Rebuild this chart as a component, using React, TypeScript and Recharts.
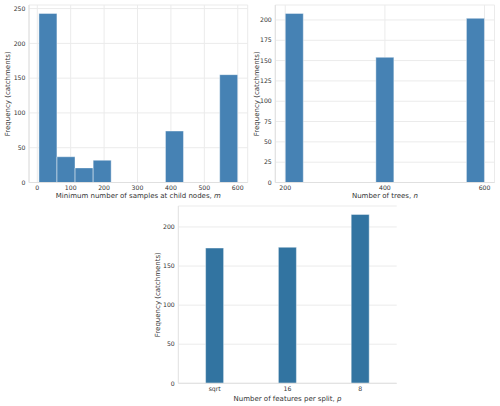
import React from "react";
import { BarChart, Bar, XAxis, YAxis, CartesianGrid } from "recharts";

// m: minimum number of samples at child nodes, 11 bins from 5 to 600
const mBinMids = [32.0, 86.1, 140.2, 194.3, 248.4, 302.5, 356.6, 410.7, 464.8, 518.9, 573.0];
const mCounts = [243, 37, 21, 32, 0, 0, 0, 74, 0, 0, 155];
const mRange = [5, 600];
const mXTicks = [0, 100, 200, 300, 400, 500, 600];
const mYTicks = [0, 50, 100, 150, 200, 250];

// n: number of trees, 11 bins from 200 to 600
const nBinMids = [218.2, 254.5, 290.9, 327.3, 363.6, 400.0, 436.4, 472.7, 509.1, 545.5, 581.8];
const nCounts = [208, 0, 0, 0, 0, 154, 0, 0, 0, 0, 202];
const nRange = [200, 600];
const nXTicks = [200, 400, 600];
const nYTicks = [0, 25, 50, 75, 100, 125, 150, 175, 200];

// p: number of features per split
const pCategories = ["sqrt", "16", "8"];
const pCounts = [173, 174, 216];
const pYTicks = [0, 50, 100, 150, 200];

const FONT = "DejaVu Sans";
const TEXT = "#333333";
const GRID = "#ebebeb";
const FRAME = "#e0e0e0";
const STEEL = "#4682b4";
const SNS_BLUE = "#3274a1";

const mData = mBinMids.map((mid, i) => ({ mid, count: mCounts[i] }));
const nData = nBinMids.map((mid, i) => ({ mid, count: nCounts[i] }));
const pData = pCategories.map((cat, i) => ({ cat, count: pCounts[i] }));

// matplotlib-style 5% margins
const padded = (r: number[]) => {
  const pad = (r[1] - r[0]) * 0.05;
  return [r[0] - pad, r[1] + pad];
};
const yTop = (vals: number[]) => Math.max(...vals) * 1.05;

const tickStyle = { fontSize: 6.2, fill: TEXT, fontFamily: FONT };

function XTitle(props: any) {
  const { viewBox, text, sym, offset } = props;
  const vb = viewBox || { x: 0, y: 0, width: 0, height: 0 };
  return (
    <text
      x={vb.x + vb.width / 2}
      y={vb.y + vb.height - offset}
      textAnchor="middle"
      fontSize={7}
      fontFamily={FONT}
      fill={TEXT}
    >
      {text}
      <tspan fontStyle="italic">{sym}</tspan>
    </text>
  );
}

function YTitle(props: any) {
  const { viewBox, cx } = props;
  const vb = viewBox || { x: 0, y: 0, width: 0, height: 0 };
  const cy = vb.y + vb.height / 2;
  return (
    <text
      x={cx}
      y={cy}
      transform={`rotate(-90 ${cx} ${cy})`}
      textAnchor="middle"
      dominantBaseline="central"
      fontSize={7}
      fontFamily={FONT}
      fill={TEXT}
    >
      Frequency (catchments)
    </text>
  );
}

function Frame() {
  return [
    <XAxis
      key="t"
      xAxisId="top"
      orientation="top"
      height={0}
      tick={false}
      tickLine={false}
      axisLine={{ stroke: FRAME }}
    />,
    <YAxis
      key="r"
      yAxisId="right"
      orientation="right"
      width={0}
      domain={[0, 1]}
      tick={false}
      tickLine={false}
      axisLine={{ stroke: FRAME }}
    />,
  ];
}

export default function App() {
  return (
    <div style={{ position: "absolute", left: 0, top: 0, width: 500, height: 406, background: "#fff" }}>
      <div style={{ position: "absolute", left: 0, top: 0 }}>
        <BarChart
          width={250}
          height={203}
          data={mData}
          margin={{ top: 5, right: 2.3, bottom: 0, left: 0 }}
          barCategoryGap={0}
        >
          <CartesianGrid stroke={GRID} />
          <XAxis
            dataKey="mid"
            type="number"
            domain={padded(mRange)}
            ticks={mXTicks}
            interval={0}
            allowDataOverflow
            height={20.5}
            tickSize={0}
            tickMargin={3.5}
            tick={tickStyle}
            axisLine={{ stroke: FRAME }}
            label={<XTitle text="Minimum number of samples at child nodes, " sym="m" offset={5} />}
          />
          <YAxis
            domain={[0, yTop(mCounts)]}
            ticks={mYTicks}
            interval={0}
            width={29}
            tickSize={0}
            tickMargin={3.5}
            tick={tickStyle}
            axisLine={{ stroke: FRAME }}
            label={<YTitle cx={8} />}
          />
          {Frame()}
          <Bar dataKey="count" fill={STEEL} stroke="#ffffff" strokeWidth={0.6} strokeOpacity={0.7} isAnimationActive={false} />
        </BarChart>
      </div>

      <div style={{ position: "absolute", left: 250, top: 0 }}>
        <BarChart
          width={250}
          height={203}
          data={nData}
          margin={{ top: 5, right: 5.5, bottom: 0, left: 0 }}
          barCategoryGap={0}
        >
          <CartesianGrid stroke={GRID} />
          <XAxis
            dataKey="mid"
            type="number"
            domain={padded(nRange)}
            ticks={nXTicks}
            interval={0}
            allowDataOverflow
            height={20.5}
            tickSize={0}
            tickMargin={3.5}
            tick={tickStyle}
            axisLine={{ stroke: FRAME }}
            label={<XTitle text="Number of trees, " sym="n" offset={5} />}
          />
          <YAxis
            domain={[0, yTop(nCounts)]}
            ticks={nYTicks}
            interval={0}
            width={25.3}
            tickSize={0}
            tickMargin={3.5}
            tick={tickStyle}
            axisLine={{ stroke: FRAME }}
            label={<YTitle cx={6.5} />}
          />
          {Frame()}
          <Bar dataKey="count" fill={STEEL} stroke="#ffffff" strokeWidth={0.6} strokeOpacity={0.7} isAnimationActive={false} />
        </BarChart>
      </div>

      <div style={{ position: "absolute", left: 140, top: 203 }}>
        <BarChart
          width={270}
          height={203}
          data={pData}
          margin={{ top: 3, right: 13.3, bottom: 0, left: 0 }}
          barCategoryGap="37.5%"
        >
          <CartesianGrid stroke={GRID} vertical={false} />
          <XAxis
            dataKey="cat"
            interval={0}
            height={22.7}
            tickSize={0}
            tickMargin={3}
            tick={tickStyle}
            axisLine={{ stroke: FRAME }}
            label={<XTitle text="Number of features per split, " sym="p" offset={7} />}
          />
          <YAxis
            domain={[0, yTop(pCounts)]}
            ticks={pYTicks}
            interval={0}
            width={38.3}
            tickSize={0}
            tickMargin={3.5}
            tick={tickStyle}
            axisLine={{ stroke: FRAME }}
            label={<YTitle cx={18} />}
          />
          {Frame()}
          <Bar dataKey="count" fill={SNS_BLUE} stroke="#ffffff" strokeWidth={0.6} strokeOpacity={0.7} isAnimationActive={false} />
        </BarChart>
      </div>
    </div>
  );
}
